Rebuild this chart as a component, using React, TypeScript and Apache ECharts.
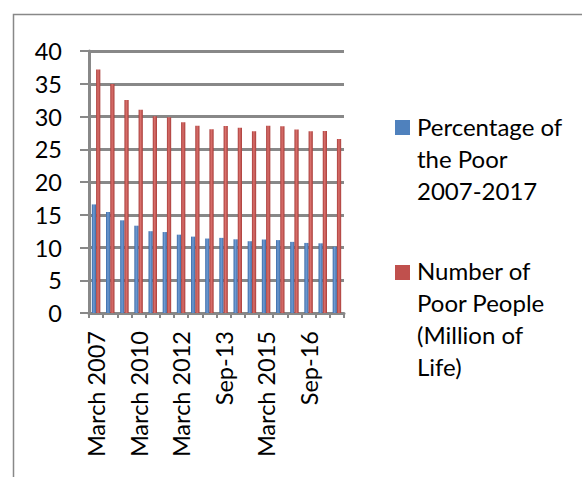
import React, { useEffect, useRef } from "react";
import * as echarts from "echarts";

const categories = [
  "March 2007", "March 2008", "March 2009", "March 2010", "March 2011", "Sep-11",
  "March 2012", "Sep-12", "March 2013", "Sep-13", "March 2014", "Sep-14",
  "March 2015", "Sep-15", "March 2016", "Sep-16", "March 2017", "Sep-17",
];
const percentagePoor = [
  16.58, 15.42, 14.15, 13.33, 12.49, 12.36, 11.96, 11.66, 11.37, 11.47, 11.25, 10.96,
  11.22, 11.13, 10.86, 10.70, 10.64, 10.12,
];
const numberPoor = [
  37.17, 34.96, 32.53, 31.02, 30.02, 29.89, 29.13, 28.59, 28.07, 28.55, 28.28, 27.73,
  28.59, 28.51, 28.01, 27.76, 27.77, 26.58,
];
const seriesNames = ["Percentage of the Poor 2007-2017", "Number of Poor People (Million of Life)"];
const legendLines = [
  "Percentage of\nthe Poor\n2007-2017",
  "Number of\nPoor People\n(Million of\nLife)",
];

const FONT = "Lato, 'Open Sans', sans-serif";
const GRAY = "#888888";

function grad(dark: string, light: string) {
  return new echarts.graphic.LinearGradient(0, 0, 1, 0, [
    { offset: 0, color: dark },
    { offset: 0.45, color: light },
    { offset: 1, color: dark },
  ]);
}

export default function App() {
  const ref = useRef<HTMLDivElement>(null);
  useEffect(() => {
    if (!ref.current) return;
    const chart = echarts.init(ref.current, null, { renderer: "svg" });
    chart.setOption({
      animation: false,
      backgroundColor: "#ffffff",
      grid: { left: 89, top: 51, width: 255, height: 262, containLabel: false },
      xAxis: {
        type: "category",
        data: categories,
        axisLine: { lineStyle: { color: GRAY, width: 3 } },
        axisTick: { show: true, interval: 0, length: 5, lineStyle: { color: GRAY, width: 2 } },
        axisLabel: {
          interval: 2,
          rotate: 90,
          margin: 18,
          fontSize: 23.5,
          fontFamily: FONT,
          color: "#000000",
        },
      },
      yAxis: {
        type: "value",
        min: 0,
        max: 40,
        interval: 5,
        axisLine: { show: true, lineStyle: { color: GRAY, width: 3 } },
        axisTick: { show: true, length: 9, lineStyle: { color: GRAY, width: 2 } },
        axisLabel: {
          fontSize: 23.5,
          fontFamily: FONT,
          color: "#000000",
          margin: 27,
          padding: [5, 0, 0, 0],
        },
        splitLine: { show: true, lineStyle: { color: GRAY, width: 3 } },
      },
      series: [
        {
          name: seriesNames[0],
          type: "bar",
          data: percentagePoor,
          barWidth: "30%",
          barGap: "0%",
          itemStyle: { color: grad("#3b6aa6", "#6f9bd3") },
        },
        {
          name: seriesNames[1],
          type: "bar",
          data: numberPoor,
          barWidth: "30%",
          barGap: "0%",
          itemStyle: { color: grad("#a83c39", "#d9706c") },
        },
      ],
      graphic: [
        {
          type: "rect",
          shape: { x: 13.5, y: 14.5, width: 620, height: 480 },
          style: { fill: "none", stroke: GRAY, lineWidth: 1.5 },
          silent: true,
        },
        {
          type: "rect",
          shape: { x: 395, y: 120, width: 15, height: 15 },
          style: { fill: "#4f81bd" },
        },
        {
          type: "text",
          x: 417,
          y: 110,
          style: {
            text: legendLines[0],
            fontSize: 24,
            lineHeight: 32,
            fontFamily: FONT,
            fill: "#000000",
            verticalAlign: "top",
          },
        },
        {
          type: "rect",
          shape: { x: 395, y: 265, width: 15, height: 15 },
          style: { fill: "#c0504d" },
        },
        {
          type: "text",
          x: 417,
          y: 254,
          style: {
            text: legendLines[1],
            fontSize: 24,
            lineHeight: 32,
            fontFamily: FONT,
            fill: "#000000",
            verticalAlign: "top",
          },
        },
      ],
    });
    return () => chart.dispose();
  }, []);
  return (
    <div
      ref={ref}
      style={{ position: "fixed", left: 0, top: 0, width: 582, height: 477 }}
    />
  );
}
